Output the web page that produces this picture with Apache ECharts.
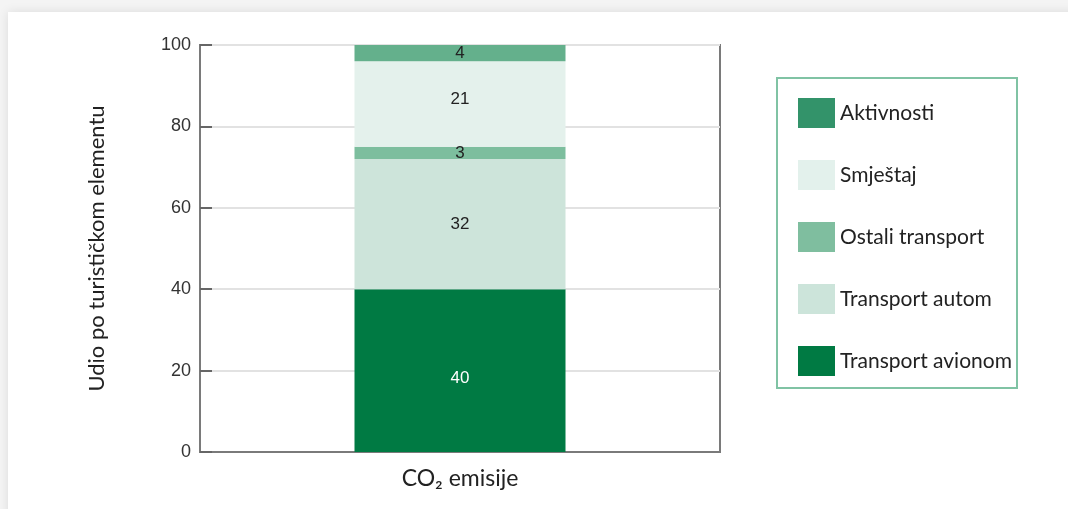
<!DOCTYPE html>
<html><head><meta charset="utf-8">
<script src="https://cdn.jsdelivr.net/npm/echarts@6/dist/echarts.min.js"></script>
<style>html,body{margin:0;padding:0;background:#fff;}#c{width:1068px;height:509px;}</style>
</head><body><div id="c"></div>
<script>
const categories = ['CO\u2082 emisije'];
const seriesNames = ['Transport avionom', 'Transport autom', 'Ostali transport', 'Smještaj', 'Aktivnosti'];
const transportAvionom = [40];
const transportAutom = [32];
const ostaliTransport = [3];
const smjestaj = [21];
const aktivnosti = [4];
const yTicks = [0, 20, 40, 60, 80, 100];
const legendOrder = ['Aktivnosti', 'Smještaj', 'Ostali transport', 'Transport autom', 'Transport avionom'];

const values = [transportAvionom, transportAutom, ostaliTransport, smjestaj, aktivnosti];
const barColors = ['#007A43', '#CDE4DA', '#7DBE9E', '#E4F1EC', '#64B08C'];
const legendColors = {'Aktivnosti':'#33936A','Smještaj':'#E3F1EC','Ostali transport':'#7FBE9F','Transport autom':'#CCE4DA','Transport avionom':'#007A43'};
const labelColors = ['#ffffff', '#222', '#222', '#222', '#222'];
const labelOffsets = [[0, 8], [0, 0], [0, 0], [0, -5], [0, 0]];

const chart = echarts.init(document.getElementById('c'), null, {renderer:'canvas'});
chart.setOption({
  backgroundColor: '#f4f4f4',
  animation: false,
  graphic: [
    {type:'rect', z:-10, shape:{x:8, y:12, width:1100, height:600}, style:{fill:'#ffffff', shadowBlur:10, shadowColor:'rgba(0,0,0,0.10)'}},
    {type:'rect', z:10, shape:{x:777, y:78, width:240, height:310}, style:{fill:'none', stroke:'#80C3A4', lineWidth:2}}
  ],
  grid: {left:200, right:348, top:45, bottom:57, show:true, borderColor:'#7a7a7a', borderWidth:2, backgroundColor:'transparent'},
  legend: {
    orient:'vertical', left:793, top:93, itemWidth:37, itemHeight:30, itemGap:32, icon:'rect',
    textStyle:{fontFamily:'Lato', fontSize:21, color:'#222', padding:[0,0,0,0]},
    data: legendOrder.map(n => ({name:n, itemStyle:{color:legendColors[n]}}))
  },
  xAxis: {
    type:'category', data:categories,
    axisLine:{show:true, lineStyle:{color:'#7a7a7a', width:2}},
    axisTick:{show:false},
    axisLabel:{fontFamily:'Lato', fontSize:23, color:'#222', margin:15}
  },
  yAxis: {
    type:'value', min:0, max:100, interval:20,
    name:'Udio po turističkom elementu', nameLocation:'middle', nameGap:92,
    nameTextStyle:{fontFamily:'Lato', fontSize:22, color:'#222'},
    axisLine:{show:true, lineStyle:{color:'#7a7a7a', width:2}},
    axisTick:{show:true, inside:true, length:12, lineStyle:{color:'#666', width:2}},
    axisLabel:{fontFamily:'Liberation Sans', fontSize:18, color:'#333', margin:9,
      formatter: v => yTicks.includes(v) ? String(v) : ''},
    splitLine:{show:true, lineStyle:{color:'#e2e2e2', width:2}}
  },
  series: seriesNames.map((name, i) => ({
    name, type:'bar', stack:'total', barWidth:211,
    data: values[i],
    itemStyle:{color:barColors[i]},
    label:{show:true, position:'inside', offset:labelOffsets[i], color:labelColors[i], fontFamily:'Liberation Sans', fontSize:17}
  }))
});
</script></body></html>
